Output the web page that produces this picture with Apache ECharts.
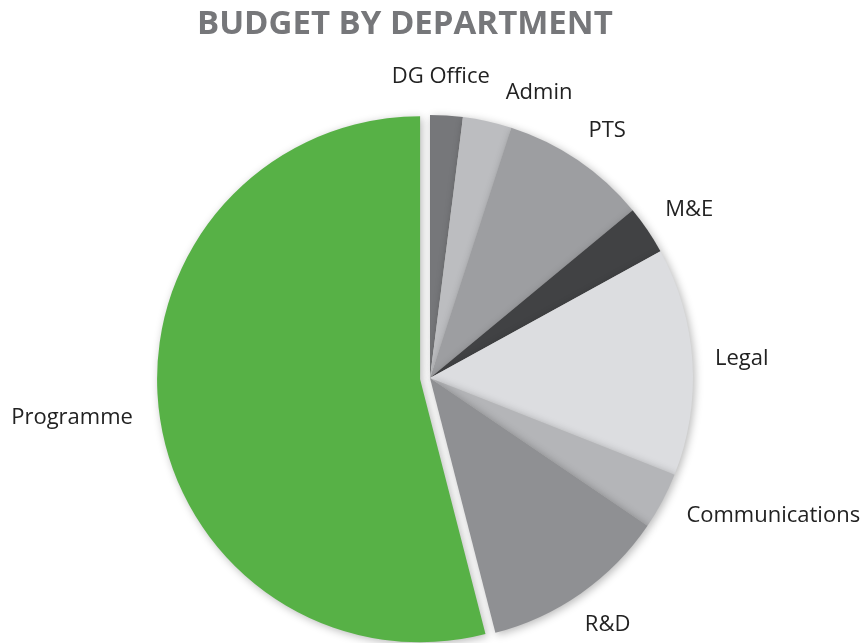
<!DOCTYPE html>
<html>
<head>
<meta charset="utf-8">
<script src="https://cdn.jsdelivr.net/npm/echarts@6/dist/echarts.min.js"></script>
<style>
html,body{margin:0;padding:0;background:#fff;}
#c{width:864px;height:643px;}
</style>
</head>
<body>
<div id="c"></div>
<script>
const categories = ['DG Office', 'Admin', 'PTS', 'M&E', 'Legal', 'Communications', 'R&D', 'Programme'];
const values = [2, 3, 9, 3, 14, 3.5, 11.5, 54];
const colors = ['#76777a', '#bcbdc0', '#9d9ea1', '#414244', '#dcdde0', '#b4b5b8', '#8f9093', '#57b146'];
const titleText = 'BUDGET BY DEPARTMENT';
// small label nudges (px) to mimic the original label placement
const labelNudge = [[-8, -3], [43, 10], [6, 5], [2, 7], [0, 0], [19, -34], [1, -5], [-4, -5]];

const CX = 430, CY = 378, R = 263, GAP = 22, EXPLODE = 10;
const explodedName = 'Programme';
const explodedIdx = categories.indexOf(explodedName);

const chart = echarts.init(document.getElementById('c'), null, {renderer: 'canvas'});
const total = values.reduce((a, b) => a + b, 0);

function midDir(idx) {
  let cum = 0;
  for (let i = 0; i < idx; i++) cum += values[i];
  const mid = (cum + values[idx] / 2) / total * Math.PI * 2;
  return [Math.sin(mid), -Math.cos(mid)];
}
const ed = midDir(explodedIdx);
const ECX = CX + ed[0] * EXPLODE, ECY = CY + ed[1] * EXPLODE;

function makeLayout(cx, cy) {
  return function (p) {
    const i = p.dataIndex;
    const d = midDir(i);
    const ux = d[0], uy = d[1];
    const bx = cx + ux * R, by = cy + uy * R;
    const w = p.labelRect.width / 2, h = p.labelRect.height / 2;
    const dist = GAP + Math.abs(ux) * w + Math.abs(uy) * h;
    const n = labelNudge[i] || [0, 0];
    return {x: bx + ux * dist + n[0], y: by + uy * dist + n[1], align: 'center', verticalAlign: 'middle'};
  };
}

const baseLabel = {
  show: true,
  position: 'outside',
  formatter: '{b}',
  fontFamily: 'Open Sans',
  fontSize: 22,
  color: '#222222'
};
const shadow = {
  shadowBlur: 8,
  shadowColor: 'rgba(0,0,0,0.28)',
  shadowOffsetX: 2,
  shadowOffsetY: 2
};

function buildData(showExploded) {
  return categories.map((c, i) => {
    const isEx = i === explodedIdx;
    const visible = showExploded ? isEx : !isEx;
    return {
      name: c,
      value: values[i],
      itemStyle: visible ? {color: colors[i]} : {color: 'rgba(0,0,0,0)', shadowBlur: 0, shadowColor: 'rgba(0,0,0,0)'},
      label: {show: visible}
    };
  });
}

chart.setOption({
  animation: false,
  backgroundColor: '#ffffff',
  title: {
    text: titleText,
    left: 192,
    top: 3,
    textStyle: {fontFamily: 'Open Sans', fontWeight: 'bold', fontSize: 33, color: '#76777a'}
  },
  series: [{
    type: 'pie',
    center: [CX, CY],
    radius: R,
    startAngle: 90,
    clockwise: true,
    avoidLabelOverlap: false,
    silent: true,
    data: buildData(false),
    itemStyle: shadow,
    label: baseLabel,
    labelLine: {show: false, length: 10, length2: 0},
    emphasis: {disabled: true},
    labelLayout: makeLayout(CX, CY)
  }, {
    type: 'pie',
    center: [ECX, ECY],
    radius: R,
    startAngle: 90,
    clockwise: true,
    avoidLabelOverlap: false,
    silent: true,
    data: buildData(true),
    itemStyle: shadow,
    label: baseLabel,
    labelLine: {show: false, length: 10, length2: 0},
    emphasis: {disabled: true},
    labelLayout: makeLayout(ECX, ECY)
  }]
});
</script>
</body>
</html>
